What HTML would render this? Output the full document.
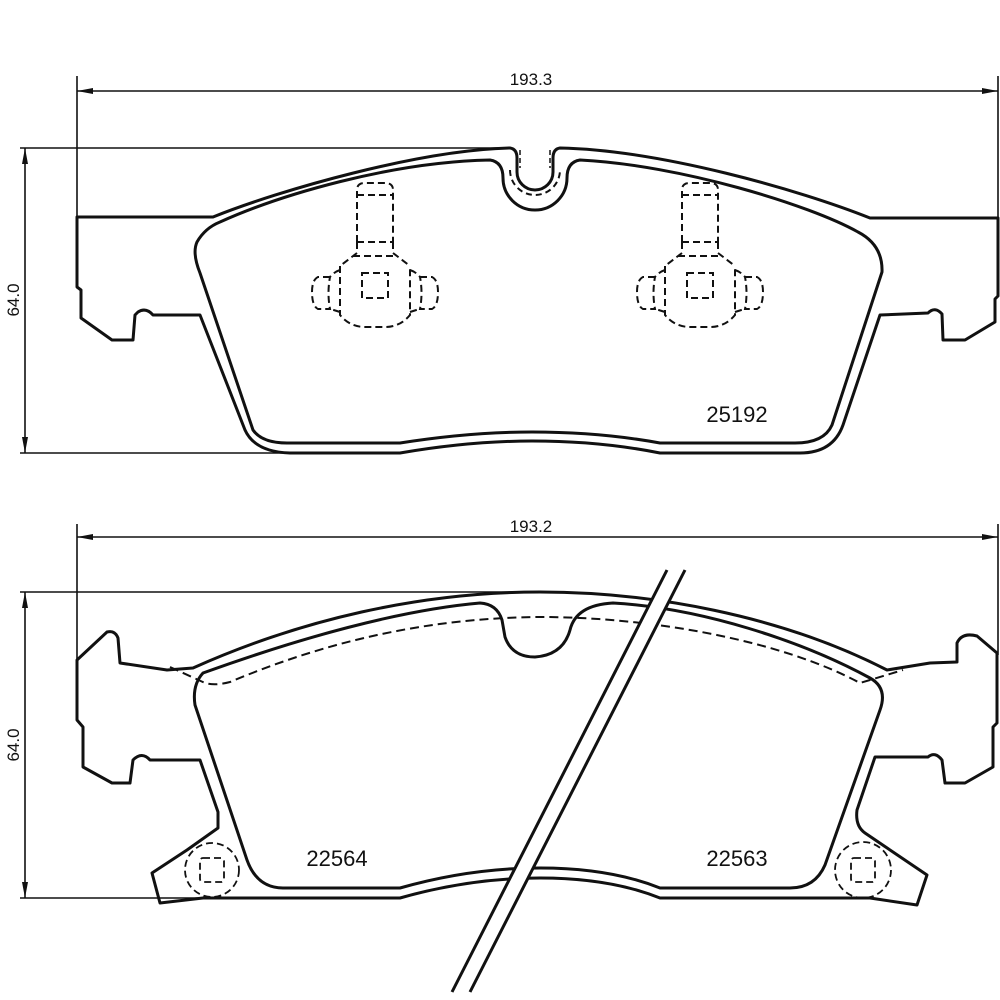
<!DOCTYPE html>
<html><head><meta charset="utf-8"><style>html,body{margin:0;padding:0;background:#fff}svg{display:block}</style></head>
<body>
<svg width="1000" height="1000" viewBox="0 0 1000 1000" xmlns="http://www.w3.org/2000/svg">
<defs>
<g id="cal" fill="none" stroke="#111" stroke-width="2" stroke-dasharray="7,4">
<path d="M-18,242 L-18,190 Q-18,183 -10,183 L10,183 Q18,183 18,190 L18,242"/>
<path d="M-18,195 L18,195 M-18,242 L18,242 M-22,256 L22,256"/>
<path d="M-18,242 L-18,253 L-35,266 M18,242 L18,253 L35,266"/>
<path d="M-35,266 L-35,315 Q-25,327 -10,327 L10,327 Q25,327 35,315 L35,266"/>
<path d="M-45,277 L-57,277 Q-63,280 -63,292 Q-63,306 -57,309 L-45,309 Q-48,293 -45,277 M-35,270 Q-41,272 -45,277 M-35,312 Q-41,310 -45,309"/>
<path d="M45,277 L57,277 Q63,280 63,292 Q63,306 57,309 L45,309 Q48,293 45,277 M35,270 Q41,272 45,277 M35,312 Q41,310 45,309"/>
<rect x="-13" y="273" width="26" height="25"/>
</g>
</defs>
<g fill="none" stroke="#111" stroke-width="1.6">
<line x1="77" y1="76" x2="77" y2="220"/>
<line x1="998" y1="76" x2="998" y2="218"/>
<line x1="77" y1="91" x2="998" y2="91"/>
<line x1="20" y1="148" x2="510" y2="148"/>
<line x1="20" y1="453" x2="290" y2="453"/>
<line x1="25" y1="148" x2="25" y2="453"/>
<line x1="77" y1="524" x2="77" y2="662"/>
<line x1="998" y1="524" x2="998" y2="655"/>
<line x1="77" y1="537" x2="998" y2="537"/>
<line x1="20" y1="592" x2="530" y2="592"/>
<line x1="20" y1="898" x2="200" y2="898"/>
<line x1="25" y1="592" x2="25" y2="898"/>
</g>
<g fill="#111">
<path d="M77,91 L93,88 L93,94Z M998,91 L982,88 L982,94Z M25,148 L22,164 L28,164Z M25,453 L22,437 L28,437Z"/>
<path d="M77,537 L93,534 L93,540Z M998,537 L982,534 L982,540Z M25,592 L22,608 L28,608Z M25,898 L22,882 L28,882Z"/>
</g>
<g font-family="Liberation Sans, sans-serif" fill="#111">
<text x="531" y="85" font-size="17" text-anchor="middle">193.3</text>
<text x="531" y="532" font-size="17" text-anchor="middle">193.2</text>
<text transform="translate(19,300) rotate(-90)" font-size="17" text-anchor="middle">64.0</text>
<text transform="translate(19,745) rotate(-90)" font-size="17" text-anchor="middle">64.0</text>
<text x="737" y="422" font-size="22" text-anchor="middle">25192</text>
<text x="337" y="866" font-size="22" text-anchor="middle">22564</text>
<text x="737" y="866" font-size="22" text-anchor="middle">22563</text>
</g>
<g fill="none" stroke="#111" stroke-width="3" stroke-linejoin="round">
<path d="M510,148 Q517,149 517,158 L517,172 A18,18 0 0 0 553,172 L553,158 Q553,149 560,148 C660,150 800,190 870,218 L998,218 L998,296 L995,299 L995,322 L965,340 L943,340 L942,314 Q935,306 928,313 L880,315 L843,425 Q833,453 800,453 L660,453 Q600,441 532,441 Q470,441 400,453 L290,453 Q255,452 245,430 L200,315 L153,315 Q146,307 138,312 L135,315 L133,340 L112,340 L81,318 L81,290 L77,287 L77,217 L213,217 C280,190 420,150 510,148Z"/>
<path d="M490,160 Q503,162 503,178 A32,32 0 0 0 567,178 Q567,162 580,160 C680,165 810,205 858,232 Q883,245 882,272 L832,425 Q824,443 795,443 L660,443 Q600,432 532,432 Q470,432 400,443 L287,443 Q262,443 253,430 L200,273 Q192,253 197,242 Q205,228 220,222 C280,195 390,162 490,160Z"/>
</g>
<path d="M510,170 A25,25 0 0 0 560,170" fill="none" stroke="#111" stroke-width="2" stroke-dasharray="6,4"/>
<path d="M520,150 L520,168 M550,150 L550,168" fill="none" stroke="#111" stroke-width="1.5" stroke-dasharray="5,3"/>
<use href="#cal" transform="translate(375,0)"/>
<use href="#cal" transform="translate(700,0)"/>
<g fill="none" stroke="#111" stroke-width="3" stroke-linejoin="round">
<path d="M193,668 C300,620 420,592 540,592 C650,592 780,615 887,670 L930,663 L957,662 L957,643 Q962,632 977,636 L997,653 L997,723 L993,727 L993,767 L965,783 L945,783 L942,760 Q935,751 928,757 L875,757 L857,810 Q855,826 865,833 L927,875 L917,905 L870,898 L660,898 Q610,878 540,878 Q470,878 400,898 L203,898 L160,903 L152,873 L187,850 L218,828 L218,812 L200,760 L150,760 Q142,751 133,760 L130,783 L112,783 L83,767 L83,727 L77,720 L77,660 L107,632 Q115,630 118,638 L120,663 L167,670 Z"/>
<path d="M203,673 C300,638 400,610 480,603 Q497,604 502,620 L505,637 Q512,657 535,657 Q563,655 570,630 Q576,605 613,603 C700,608 800,640 870,678 Q888,688 880,710 L825,865 Q815,888 790,888 L660,888 Q610,868 540,868 Q470,868 400,888 L283,888 Q257,888 247,860 L195,705 Q192,685 203,673Z"/>
</g>
<path d="M170,667 L205,683 Q215,686 230,682 C330,640 430,618 540,617 C650,617 780,640 860,683 L903,670" fill="none" stroke="#111" stroke-width="2" stroke-dasharray="9,5"/>
<g fill="none" stroke="#111" stroke-width="1.8" stroke-dasharray="7,4">
<circle cx="212" cy="870" r="27"/>
<rect x="200" y="858" width="24" height="24" rx="3"/>
<circle cx="863" cy="870" r="28"/>
<rect x="851" y="858" width="24" height="24" rx="3"/>
</g>
<polygon points="667,570 685,570 470,992 452,992" fill="#fff"/>
<g stroke="#111" stroke-width="3">
<line x1="667" y1="570" x2="452" y2="992"/>
<line x1="685" y1="570" x2="470" y2="992"/>
</g>
</svg>
</body></html>
